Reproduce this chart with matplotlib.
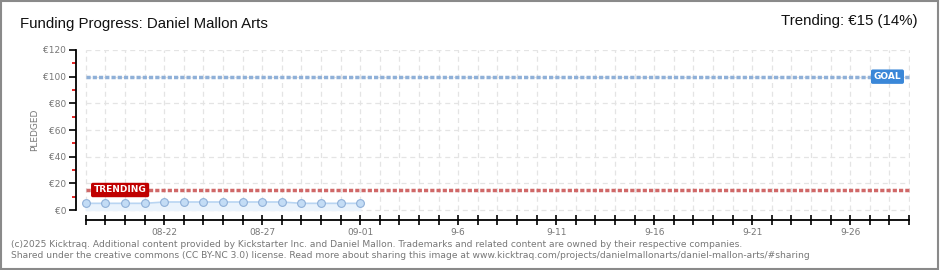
import matplotlib
matplotlib.use("Agg")
import matplotlib.pyplot as plt
from matplotlib.patches import Rectangle
import numpy as np

# ---- data ----
day_index = list(range(15))            # 08-18 .. 09-01
pledged = [5, 5, 5, 5, 6, 6, 6, 6, 6, 6, 6, 5, 5, 5, 5]
goal = 100
trending = 15
tick_pos = [4, 9, 14, 19, 24, 29, 34, 39]
tick_labels = ["08-22", "08-27", "09-01", "9-6", "9-11", "9-16", "9-21", "9-26"]
y_ticks = [0, 20, 40, 60, 80, 100, 120]
y_labels = ["€0", "€20", "€40", "€60", "€80", "€100", "€120"]
n_days = 42

fig = plt.figure(figsize=(9.4, 2.7), dpi=100)
fig.patch.set_facecolor("white")
# frame
fig.add_artist(Rectangle((0.001, 0.002), 0.997, 0.995, transform=fig.transFigure,
                         fill=False, edgecolor="#8a8a8a", linewidth=1.5))

ax = fig.add_axes([76/940, (270-220)/270, (910-76)/940, (220-50)/270])
ax.set_xlim(-0.5, n_days + 0.05)
ax.set_ylim(-7.5, 120)

# grid
for d in range(0, n_days + 1):
    ax.plot([d, d], [0, 120], color="#e4e4e4", lw=0.9, ls=(0, (4, 3)), zorder=0)
for yv in y_ticks:
    ax.plot([0, n_days], [yv, yv], color="#e4e4e4", lw=0.9, ls=(0, (4, 3)), zorder=0)

# data
ax.fill_between(day_index, pledged, 0, color="#eaf3fc", zorder=1)
ax.plot(day_index, pledged, color="#b9d5f2", lw=1.2, zorder=2)
ax.plot(day_index, pledged, ls="none", marker="o", ms=5.6, mfc="#c3dcf5",
        mec="#8fb0d8", mew=0.8, zorder=3)

# goal & trending
ax.plot([0, n_days], [goal, goal], color="#8fb0d8", lw=2.5, ls=(0, (1.2, 0.6)), zorder=2)
ax.plot([0, n_days], [trending, trending], color="#d06868", lw=2.5, ls=(0, (1.2, 0.6)), zorder=2)
ax.text(40.9, goal, "GOAL", color="white", fontsize=6.5, fontweight="bold",
        ha="center", va="center", zorder=5,
        bbox=dict(boxstyle="round,pad=0.3,rounding_size=0.2", fc="#3a87d8", ec="none"))
ax.text(1.75, trending, "TRENDING", color="white", fontsize=6.5, fontweight="bold",
        ha="center", va="center", zorder=5,
        bbox=dict(boxstyle="round,pad=0.3,rounding_size=0.2", fc="#c00000", ec="none"))

# spines
for s in ["top", "right"]:
    ax.spines[s].set_visible(False)
ax.spines["left"].set_bounds(0, 120)
ax.spines["bottom"].set_bounds(0, n_days)
ax.spines["left"].set_linewidth(1.3)
ax.spines["bottom"].set_linewidth(1.3)

ax.set_yticks(y_ticks)
ax.set_yticklabels(y_labels)
ax.set_yticks([10, 30, 50, 70, 90, 110], minor=True)
ax.tick_params(axis="y", which="major", direction="out", length=5, width=1.2,
               colors="black", labelcolor="#777777", labelsize=6.5, pad=2)
ax.tick_params(axis="y", which="minor", direction="out", length=3, width=1.2, colors="#dd0000")

ax.set_xticks(tick_pos)
ax.set_xticklabels(tick_labels)
ax.set_xticks([d for d in range(0, n_days + 1) if d not in tick_pos], minor=True)
ax.tick_params(axis="x", which="both", direction="inout", length=7, width=1.2, colors="black",
               labelcolor="#777777", labelsize=6.5, pad=2)

fig.text(35/940, 1 - 130/270, "PLEDGED", rotation=90, color="#777777", fontsize=6.5,
         ha="center", va="center")

fig.text(20/940, 1 - 24/270, "Funding Progress: Daniel Mallon Arts", fontsize=10.8,
         family=["Liberation Sans", "DejaVu Sans"], ha="left", va="center", color="#111111")
fig.text(918/940, 1 - 21/270, "Trending: €15 (14%)", fontsize=10.8,
         family=["Liberation Sans", "DejaVu Sans"], ha="right", va="center", color="#111111")

foot = ("(c)2025 Kicktraq. Additional content provided by Kickstarter Inc. and Daniel Mallon. "
        "Trademarks and related content are owned by their respective companies.\n"
        "Shared under the creative commons (CC BY-NC 3.0) license. Read more about sharing this image "
        "at www.kicktraq.com/projects/danielmallonarts/daniel-mallon-arts/#sharing")
fig.text(11/940, 1 - 250/270, foot, fontsize=6.6, color="#777777", ha="left", va="center",
         linespacing=1.3)

fig.savefig("out.png", dpi=100, facecolor="white")
